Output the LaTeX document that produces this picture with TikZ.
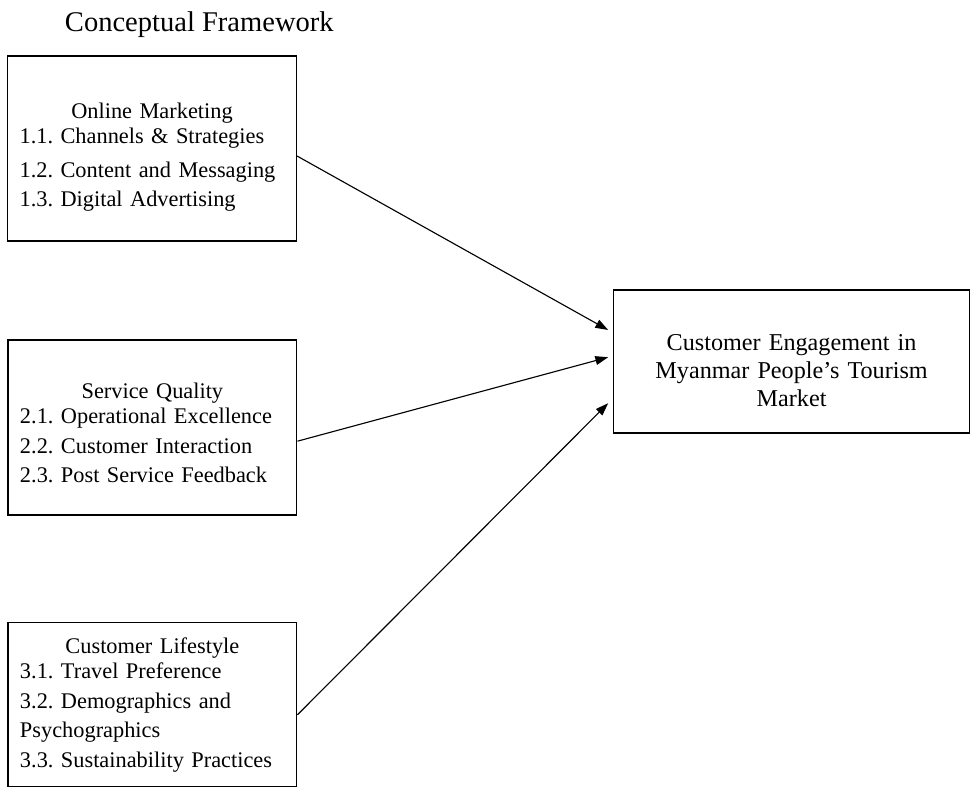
\documentclass[tikz,border=0pt]{standalone}
\usepackage{fontspec}
\setmainfont{Liberation Serif}
\usetikzlibrary{arrows.meta}
\frenchspacing
\tikzset{
  factor/.style={draw, line width=0.9pt, inner xsep=0.3cm, inner ysep=0pt, text width=6.62cm, align=left,
    font=\fontsize{15.9}{21}\selectfont},
  outcome/.style={draw, line width=0.9pt, inner xsep=0.3cm, text width=8.3cm, minimum height=3.575cm, align=center,
    text height=0.87cm, font=\fontsize{17.2}{19.9}\selectfont},
}
\newcommand{\boxhead}[1]{{\centering #1\par}\vspace{-3pt}\noindent}
\begin{document}
\begin{tikzpicture}
\useasboundingbox (0,0) rectangle (24.3,-19.725);
\node[anchor=base west, font=\fontsize{20.3}{24}\selectfont] (title) at (1.5,-0.8) {Conceptual Framework};
% the three factor boxes on the left
\node[factor, minimum height=4.625cm, text height=0.83cm] (om) at (3.8,-3.71)
  {\boxhead{Online Marketing}1.1. Channels \& Strategies\\[3pt]1.2. Content and Messaging\\1.3. Digital Advertising};
\node[factor, minimum height=4.375cm, text height=0.66cm] (sq) at (3.81,-10.69)
  {\boxhead{Service Quality}2.1. Operational Excellence\\2.2. Customer Interaction\\2.3. Post Service Feedback};
\node[factor, minimum height=4.1cm] (cl) at (3.81,-17.62)
  {\boxhead{Customer Lifestyle}3.1. Travel Preference\\3.2. Demographics and\\Psychographics\\3.3. Sustainability Practices};
% dependent variable
\node[outcome] (ce) at (19.79,-9.04) {Customer Engagement in\\Myanmar People's Tourism\\Market};
% edit here for the arrows: source / shift at source / shift at target
\foreach \src/\sy/\ty in {om/-0.19/0.79, sq/-0.34/0.11, cl/-0.25/-1.04}
\draw[line width=0.8pt, -{Triangle[length=0.32cm,width=0.22cm]}] ([yshift=\sy cm]\src.east) -- ([xshift=-0.12cm,yshift=\ty cm]ce.west);
\end{tikzpicture}
\end{document}
